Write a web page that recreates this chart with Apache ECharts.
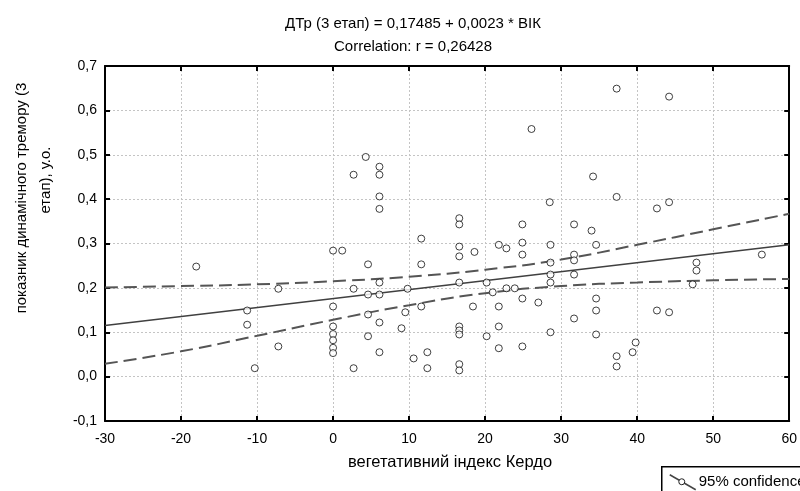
<!DOCTYPE html>
<html>
<head>
<meta charset="utf-8">
<script src="https://cdn.jsdelivr.net/npm/echarts@6/dist/echarts.min.js"></script>
<style>
  html, body { margin: 0; padding: 0; background: #fff; }
  #chart { width: 800px; height: 491px; }
</style>
</head>
<body>
<div id="chart"></div>
<script>
// вегетативний індекс Кердо (x) та показник динамічного тремору (y)
var pointsX = [
  -18, -11.3, -11.3, -10.3, -7.2, -7.2, 0, 1.2, 0, 0,
  0, 0, 0, 0, 2.7, 2.7, 4.6, 4.6, 4.6, 4.6,
  6.1, 6.1, 6.1, 6.1, 9.5, 9.0, 9.8, 10.6, 4.3, 6.1,
  2.7, 6.1, 6.1, 6.1, 16.6, 16.6, 11.6, 16.6, 16.6, 18.6,
  21.8, 22.8, 24.9, 24.9, 24.9, 28.6, 28.6, 28.6, 28.6, 28.6,
  31.7, 34.0, 31.7, 31.7, 31.7, 31.7, 34.6, 34.6, 34.6, 34.6,
  11.6, 11.6, 12.4, 12.4, 16.6, 16.6, 16.6, 16.6, 16.6, 16.6,
  18.4, 20.2, 20.2, 21.0, 21.8, 21.8, 21.8, 22.8, 23.9, 24.9,
  24.9, 27.0, 26.1, 34.2, 28.5, 37.3, 44.2, 37.3, 42.6, 44.2,
  37.3, 37.3, 39.4, 39.8, 42.6, 44.2, 47.8, 47.8, 47.3, 56.4
];
var pointsY = [
  0.248, 0.149, 0.117, 0.019, 0.198, 0.068, 0.284, 0.284, 0.158, 0.113,
  0.096, 0.082, 0.065, 0.053, 0.198, 0.019, 0.253, 0.185, 0.140, 0.091,
  0.212, 0.185, 0.122, 0.055, 0.145, 0.109, 0.198, 0.041, 0.495, 0.473,
  0.455, 0.455, 0.406, 0.378, 0.357, 0.343, 0.311, 0.293, 0.271, 0.281,
  0.297, 0.289, 0.343, 0.302, 0.275, 0.297, 0.257, 0.230, 0.212, 0.100,
  0.343, 0.329, 0.275, 0.262, 0.230, 0.131, 0.297, 0.176, 0.149, 0.095,
  0.253, 0.158, 0.055, 0.019, 0.212, 0.113, 0.104, 0.095, 0.028, 0.014,
  0.158, 0.212, 0.091, 0.190, 0.158, 0.113, 0.064, 0.199, 0.199, 0.176,
  0.068, 0.167, 0.558, 0.451, 0.393, 0.649, 0.631, 0.405, 0.379, 0.393,
  0.046, 0.023, 0.055, 0.077, 0.149, 0.145, 0.257, 0.239, 0.208, 0.275
];

// лінія регресії (як на малюнку)
var fitX = [-30, 60];
var fitY = [0.115, 0.297];

// 95% довірчі межі
var bandX = [-30, -20, -10, 0, 10, 20, 30, 40, 50, 60];
var bandUpper = [0.201, 0.204, 0.208, 0.215, 0.225, 0.241, 0.264, 0.297, 0.332, 0.367];
var bandLower = [0.029, 0.057, 0.092, 0.128, 0.161, 0.188, 0.204, 0.212, 0.217, 0.220];

var xTicks = { min: -30, max: 60, interval: 10 };
var yTicks = { min: -0.1, max: 0.7, interval: 0.1 };

var titleLine1 = 'ДТр (3 етап) = 0,17485 + 0,0023 * ВІК';
var titleLine2 = 'Correlation: r = 0,26428';
var xName = 'вегетативний індекс Кердо';
var yName1 = 'показник динамічного тремору (3';
var yName2 = 'етап), у.о.';
var legendText = '95% confidence';

function zip(xs, ys) {
  return xs.map(function (x, i) { return [x, ys[i]]; });
}

var font = '"Liberation Sans", Arial, sans-serif';
var chart = echarts.init(document.getElementById('chart'));

var axisCommon = {
  type: 'value',
  axisLine: { show: true, onZero: false, lineStyle: { color: '#000', width: 2 } },
  axisTick: { show: true, inside: true, length: 5, lineStyle: { color: '#000', width: 2 } },
  splitLine: { show: false }
};

var option = {
  animation: false,
  backgroundColor: '#fff',
  textStyle: { fontFamily: font },
  title: [
    { text: titleLine1, left: 408, top: 11, textAlign: 'center',
      textStyle: { fontSize: 15, fontWeight: 'normal', color: '#000', fontFamily: font } },
    { text: titleLine2, left: 408, top: 34, textAlign: 'center',
      textStyle: { fontSize: 15, fontWeight: 'normal', color: '#000', fontFamily: font } }
  ],
  grid: { left: 105, right: 5, top: 66, bottom: 70, containLabel: false },
  xAxis: [
    Object.assign({}, axisCommon, {
      min: xTicks.min, max: xTicks.max, interval: xTicks.interval,
      position: 'bottom',
      axisLabel: { color: '#000', fontSize: 14, margin: 11, fontFamily: font },
      splitLine: { show: true, lineStyle: { color: '#c4c4c4', type: [2, 2], width: 1 } }
    }),
    Object.assign({}, axisCommon, {
      min: xTicks.min, max: xTicks.max, interval: xTicks.interval,
      position: 'top',
      axisLabel: { show: false }
    })
  ],
  yAxis: [
    Object.assign({}, axisCommon, {
      min: yTicks.min, max: yTicks.max, interval: yTicks.interval,
      position: 'left',
      axisLabel: {
        color: '#000', fontSize: 14, margin: 8, fontFamily: font,
        formatter: function (v) { return v.toFixed(1).replace('.', ','); }
      },
      splitLine: { show: true, lineStyle: { color: '#c4c4c4', type: [2, 2], width: 1 } }
    }),
    Object.assign({}, axisCommon, {
      min: yTicks.min, max: yTicks.max, interval: yTicks.interval,
      position: 'right',
      axisLabel: { show: false }
    })
  ],
  graphic: [
    { type: 'text', x: 450, y: 462,
      style: { text: xName, fill: '#000', font: '16.5px ' + font, align: 'center', verticalAlign: 'middle' } },
    { type: 'text', x: 22, y: 198, rotation: Math.PI / 2,
      style: { text: yName1, fill: '#000', font: '15px ' + font, align: 'center', verticalAlign: 'middle' } },
    { type: 'text', x: 46, y: 180, rotation: Math.PI / 2,
      style: { text: yName2, fill: '#000', font: '15px ' + font, align: 'center', verticalAlign: 'middle' } },
    { type: 'group', left: 661, top: 466, children: [
      { type: 'rect', shape: { x: 0, y: 0, width: 160, height: 40 },
        style: { fill: '#fff', stroke: '#000', lineWidth: 1.5 } },
      { type: 'line', shape: { x1: 8, y1: 8, x2: 34, y2: 23 },
        style: { stroke: '#444', lineWidth: 1.5 } },
      { type: 'circle', shape: { cx: 20, cy: 15, r: 3 },
        style: { fill: '#fff', stroke: '#222', lineWidth: 1 } },
      { type: 'text', x: 37, y: 15,
        style: { text: legendText, fill: '#000', font: '15px ' + font, verticalAlign: 'middle' } }
    ] }
  ],
  series: [
    {
      name: 'upper', type: 'line', smooth: true, symbol: 'none',
      data: zip(bandX, bandUpper),
      lineStyle: { color: '#555', width: 2, type: [13, 6] }, z: 3
    },
    {
      name: 'lower', type: 'line', smooth: true, symbol: 'none',
      data: zip(bandX, bandLower),
      lineStyle: { color: '#555', width: 2, type: [13, 6] }, z: 3
    },
    {
      name: 'fit', type: 'line', symbol: 'none',
      data: zip(fitX, fitY),
      lineStyle: { color: '#404040', width: 1.5 }, z: 3
    },
    {
      name: 'points', type: 'scatter', symbol: 'circle', symbolSize: 7,
      data: zip(pointsX, pointsY),
      itemStyle: { color: '#fff', borderColor: '#111', borderWidth: 1 }, z: 4
    }
  ]
};

chart.setOption(option);
</script>
</body>
</html>
